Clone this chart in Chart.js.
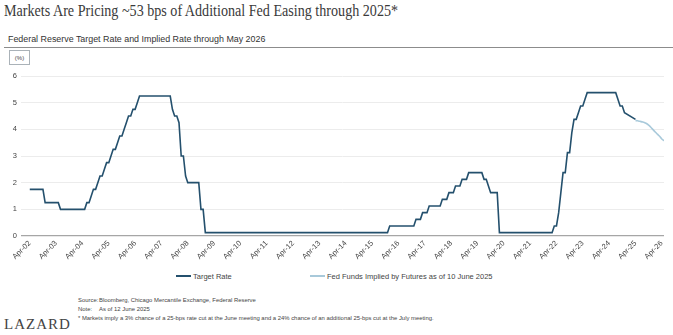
<!DOCTYPE html>
<html>
<head>
  <title>Fed Target Rate</title>
  <script src="https://cdn.jsdelivr.net/npm/chart.js"></script>
  <style>
    body { margin: 0; width: 673px; height: 335px; overflow: hidden; background: #fff; position: relative; font-family: "Liberation Sans", Arial, sans-serif; color: #333; }
    #title { position: absolute; left: 4px; top: 1px; font-family: "Liberation Serif", serif; font-size: 17px; color: #3a3a3a; white-space: nowrap; transform: scaleX(0.83); transform-origin: left top; }
    #subtitle { position: absolute; left: 8px; top: 34px; font-size: 8.9px; color: #333; white-space: nowrap; }
    #rule { position: absolute; left: 4px; right: 0; top: 47px; border-top: 1.5px solid #8c8c8c; }
    #unit { position: absolute; left: 9px; top: 50px; width: 21px; height: 15px; border: 1px solid #aab2b8; font-size: 6px; line-height: 15px; text-align: center; color: #444; box-sizing: border-box; }
    #wrap { position: absolute; left: 0; top: 66px; width: 673px; height: 200px; }
    .legend { position: absolute; top: 272px; font-size: 7.5px; color: #444; white-space: nowrap; }
    .legend i { display: inline-block; width: 15px; height: 0; border-top: 2px solid; vertical-align: middle; margin-right: 2px; position: relative; top: -1px; }
    .foot { position: absolute; left: 78px; font-size: 5.9px; color: #444; white-space: nowrap; }
    .foot b { font-weight: normal; display: inline-block; width: 21px; }
    #logo { position: absolute; left: 4px; top: 316px; font-family: "Liberation Serif", serif; font-size: 15px; letter-spacing: 1px; color: #444; }
  </style>
</head>
<body>
  <div id="title">Markets Are Pricing ~53 bps of Additional Fed Easing through 2025*</div>
  <div id="subtitle">Federal Reserve Target Rate and Implied Rate through May 2026</div>
  <div id="rule"></div>
  <div id="unit">(%)</div>
  <div id="wrap"><canvas id="rateChart"></canvas></div>
  <div class="legend" style="left:176px"><i style="color:#24506d"></i>Target Rate</div>
  <div class="legend" style="left:310px"><i style="color:#a8c9da"></i>Fed Funds Implied by Futures as of 10 June 2025</div>
  <div class="foot" style="top:297px"><b>Source:</b>Bloomberg, Chicago Mercantile Exchange, Federal Reserve</div>
  <div class="foot" style="top:306px"><b>Note:</b>As of 12 June 2025</div>
  <div class="foot" style="top:315px">* Markets imply a 3% chance of a 25-bps rate cut at the June meeting and a 24% chance of an additional 25-bps cut at the July meeting.</div>
  <div id="logo">LAZARD</div>

  <script>
    // months counted from Apr 2002 (0 = Apr-02)
    const firstYear = 2002;
    const tickMonths = [0, 12, 24, 36, 48, 60, 72, 84, 96, 108, 120, 132, 144, 156, 168, 180, 192, 204, 216, 228, 240, 252, 264, 276, 288];

    // target rate (midpoint of range after 2008), points where the level changes
    const targetMonths = [0, 6, 7, 13, 14, 25, 26, 27, 28, 29, 30, 31, 32, 33, 34, 35, 36, 37, 38, 39, 40, 41, 42, 43, 44, 45, 46, 47, 48, 49, 50,
      64, 65, 66, 67, 68, 69, 70, 71, 72, 77, 78, 79, 80,
      163, 164, 175, 176, 178, 179, 181, 182, 187, 188, 190, 191, 193, 194, 196, 197, 199, 200,
      206, 207, 208, 209, 210, 213, 214,
      238, 239, 240, 241, 242, 243, 244, 245, 246, 247, 248, 249, 250, 251, 252, 253, 254,
      267, 268, 269, 270, 271, 276];
    const targetRates = [1.75, 1.75, 1.25, 1.25, 1.00, 1.00, 1.25, 1.25, 1.50, 1.75, 1.75, 2.00, 2.25, 2.25, 2.50, 2.75, 2.75, 3.00, 3.25, 3.25, 3.50, 3.75, 3.75, 4.00, 4.25, 4.50, 4.50, 4.75, 4.75, 5.00, 5.25,
      5.25, 4.75, 4.50, 4.50, 4.25, 3.00, 3.00, 2.25, 2.00, 2.00, 1.00, 1.00, 0.125,
      0.125, 0.375, 0.375, 0.625, 0.625, 0.875, 0.875, 1.125, 1.125, 1.375, 1.375, 1.625, 1.625, 1.875, 1.875, 2.125, 2.125, 2.375,
      2.375, 2.125, 2.125, 1.875, 1.625, 1.625, 0.125,
      0.125, 0.375, 0.375, 0.875, 1.625, 2.375, 2.375, 3.125, 3.125, 3.875, 4.375, 4.375, 4.625, 4.875, 4.875, 5.125, 5.375,
      5.375, 5.125, 4.875, 4.875, 4.625, 4.375];

    // futures-implied path, monthly
    const impliedMonths = [276, 277, 278, 279, 280, 281, 282, 283, 284, 285, 286, 287, 288, 289];
    const impliedRates = [4.33, 4.32, 4.30, 4.28, 4.26, 4.22, 4.16, 4.08, 3.99, 3.90, 3.82, 3.74, 3.64, 3.57];

    const toPoints = (xs, ys) => xs.map((x, i) => ({ x: x, y: ys[i] }));

    const tickFont = { family: '"Liberation Sans", Arial, sans-serif', size: 7.5 };

    new Chart(document.getElementById('rateChart'), {
      type: 'line',
      data: {
        datasets: [{
          label: 'Target Rate',
          data: toPoints(targetMonths, targetRates),
          borderColor: '#24506d',
          borderWidth: 1.6,
          pointRadius: 0,
          tension: 0
        }, {
          label: 'Fed Funds Implied by Futures as of 10 June 2025',
          data: toPoints(impliedMonths, impliedRates),
          borderColor: '#a8c9da',
          borderWidth: 1.6,
          pointRadius: 0,
          tension: 0.3
        }]
      },
      options: {
        responsive: true,
        maintainAspectRatio: false,
        animation: false,
        layout: { padding: { top: 10, right: 9, left: 0, bottom: 0 } },
        plugins: { legend: { display: false }, tooltip: { enabled: false } },
        scales: {
          x: {
            type: 'linear',
            min: -4,
            max: 289,
            grid: { display: false, drawTicks: false },
            border: { display: false },
            afterBuildTicks: axis => { axis.ticks = tickMonths.map(v => ({ value: v })); },
            afterFit: axis => { axis.height = 30; },
            ticks: {
              autoSkip: false,
              maxRotation: 45,
              minRotation: 45,
              padding: 3,
              color: '#444',
              font: tickFont,
              callback: v => 'Apr-' + String((firstYear + v / 12) % 100).padStart(2, '0')
            }
          },
          y: {
            min: 0,
            max: 6,
            ticks: { stepSize: 1, color: '#444', font: tickFont, padding: 4 },
            grid: {
              drawTicks: false,
              color: c => c.tick.value === 0 ? '#a6a6a6' : '#ececec',
              lineWidth: c => c.tick.value === 0 ? 1.2 : 1
            },
            border: { display: false },
            afterFit: axis => { axis.width = 21; }
          }
        }
      }
    });
  </script>
</body>
</html>
